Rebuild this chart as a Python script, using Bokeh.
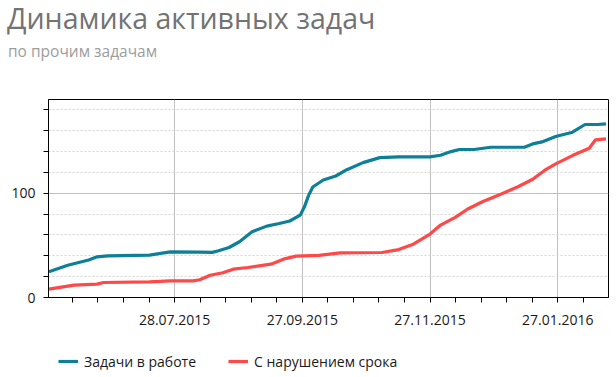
import numpy as np
import pandas as pd
from bokeh.plotting import figure
from bokeh.layouts import column
from bokeh.models import (Range1d, FixedTicker, DatetimeTickFormatter, Legend,
                          LegendItem, Div)
from bokeh.embed import file_html
from bokeh.resources import INLINE

title_text = "Динамика активных задач"
subtitle_text = "по прочим задачам"
series_names = ["Задачи в работе", "С нарушением срока"]
tick_dates = ["2015-07-28", "2015-09-27", "2015-11-27", "2016-01-27"]
x_limits = ["2015-05-28 19:00", "2016-02-20 05:00"]
y_major = [0, 100]
y_minor = [20, 40, 60, 80, 120, 140, 160, 180]

work_dates = ["2015-05-29", "2015-06-07", "2015-06-17", "2015-06-21", "2015-06-26",
              "2015-07-16", "2015-07-26", "2015-08-09", "2015-08-15", "2015-08-18",
              "2015-08-23", "2015-08-28", "2015-09-03", "2015-09-10", "2015-09-16",
              "2015-09-21", "2015-09-26", "2015-09-28", "2015-09-30", "2015-10-02",
              "2015-10-07", "2015-10-13", "2015-10-18", "2015-10-26", "2015-11-03",
              "2015-11-12", "2015-11-27", "2015-12-02", "2015-12-07", "2015-12-11",
              "2015-12-18", "2015-12-26", "2016-01-11", "2016-01-15", "2016-01-20",
              "2016-01-26", "2016-02-03", "2016-02-09", "2016-02-15", "2016-02-19"]
work_vals = [24.6, 31, 36, 39, 40, 40.7, 43.8, 43.5, 43.3, 44.8,
             48, 53.5, 63, 68.5, 71, 73.4, 79, 87, 98, 106,
             112.8, 116.6, 122.4, 129.4, 134.2, 135, 135, 136.5, 140, 142,
             142, 144.2, 144.2, 147.4, 149.6, 154.5, 158.6, 166, 166, 166.6]

overdue_dates = ["2015-05-29", "2015-06-10", "2015-06-21", "2015-06-24", "2015-07-16",
                 "2015-07-26", "2015-08-06", "2015-08-09", "2015-08-14", "2015-08-20",
                 "2015-08-25", "2015-09-01", "2015-09-12", "2015-09-18", "2015-09-24",
                 "2015-10-05", "2015-10-15", "2015-11-04", "2015-11-12", "2015-11-19",
                 "2015-11-27", "2015-12-02", "2015-12-09", "2015-12-15", "2015-12-22",
                 "2015-12-31", "2016-01-08", "2016-01-15", "2016-01-21", "2016-01-26",
                 "2016-02-03", "2016-02-11", "2016-02-14", "2016-02-19"]
overdue_vals = [8, 11.8, 12.8, 14.4, 15, 16, 16, 17, 21.4, 23.7,
                27.2, 28.8, 32, 36.8, 39.7, 40.4, 42.9, 43.2, 46, 51.2,
                60.9, 69.5, 76.9, 84.9, 91.9, 99.3, 106.3, 113.5, 122.4, 128.2,
                136.2, 143.3, 151.3, 152.2]

BLUE = "#0d7f99"
RED = "#ff4848"
FONT = "Open Sans"
W = 616
TOP_H = 91
MAIN_H = 246
LEG_H = 377 - TOP_H - MAIN_H


def to_ms(dates):
    return [float((pd.Timestamp(d) - pd.Timestamp("1970-01-01")) / pd.Timedelta(milliseconds=1))
            for d in dates]


# ---- title block (HTML text) ----
span = ("<span style=\"position:absolute;left:{l}px;top:{t}px;font-family:'Open Sans';"
        "font-size:{s}px;line-height:1;color:{c};white-space:nowrap;\">{txt}</span>")
head_html = ("<div style=\"position:relative;width:%dpx;height:%dpx;\">" % (W, TOP_H)
             + span.format(l=7, t=4, s=28.5, c="#737373", txt=title_text)
             + span.format(l=8, t=44, s=15.5, c="#9c9c9c", txt=subtitle_text)
             + "</div>")
head = Div(text=head_html, width=W, height=TOP_H, margin=0)

# ---- main chart ----
major_ms = to_ms(tick_dates)
step = (major_ms[1] - major_ms[0]) / 5.0
minor_ms = [major_ms[0] + k * step for k in range(-5, 0)]
for a, b in zip(major_ms[:-1], major_ms[1:]):
    minor_ms += list(np.linspace(a, b, 6)[1:-1])
minor_ms += [major_ms[-1] + k * step for k in range(1, 5)]
xlim_ms = to_ms(x_limits)

p = figure(width=W, height=MAIN_H, output_backend="svg", toolbar_location=None,
           x_axis_type="datetime",
           x_range=Range1d(xlim_ms[0], xlim_ms[1]),
           y_range=Range1d(0, 190),
           min_border_left=48, min_border_right=8, min_border_top=8,
           min_border_bottom=40)
p.background_fill_color = "white"
p.border_fill_color = "white"
p.outline_line_color = "black"
p.outline_line_width = 1

p.line(pd.to_datetime(work_dates), work_vals, line_width=3.2, color=BLUE)
p.line(pd.to_datetime(overdue_dates), overdue_vals, line_width=3.2, color=RED)

xt = FixedTicker(ticks=major_ms, minor_ticks=minor_ms)
p.xaxis.ticker = xt
p.xaxis.formatter = DatetimeTickFormatter(days="%d.%m.%Y", months="%d.%m.%Y",
                                          years="%d.%m.%Y")
yt = FixedTicker(ticks=y_major, minor_ticks=y_minor)
p.yaxis.ticker = yt

for ax in (p.xaxis[0], p.yaxis[0]):
    ax.axis_line_color = "black"
    ax.major_tick_line_color = "black"
    ax.minor_tick_line_color = "black"
    ax.major_tick_in = 0
    ax.minor_tick_in = 0
    ax.major_tick_out = 5
    ax.minor_tick_out = 5
    ax.major_label_text_font = FONT
    ax.major_label_text_font_size = "14px"
    ax.major_label_text_color = "#1a1a1a"
p.yaxis.major_label_standoff = 8
p.xaxis.major_label_standoff = 12

p.xgrid.ticker = xt
p.xgrid.grid_line_color = "#c0c0c0"
p.ygrid.ticker = yt
p.ygrid.grid_line_color = "#c0c0c0"
p.ygrid.minor_grid_line_color = "#d4d4d4"
p.ygrid.minor_grid_line_dash = "2 2"

# ---- legend block (same series, kept out of view; only the legend shows) ----
leg = figure(width=W, height=LEG_H, output_backend="svg", toolbar_location=None,
             x_axis_type="datetime",
             x_range=Range1d(xlim_ms[0], xlim_ms[1]), y_range=Range1d(-1000, -900),
             x_axis_location=None, y_axis_location=None,
             min_border_left=48, min_border_right=8, min_border_top=0,
             min_border_bottom=0)
leg.outline_line_color = None
leg.background_fill_color = "white"
leg.border_fill_color = "white"
leg.grid.visible = False
k1 = leg.line(pd.to_datetime(work_dates), work_vals, line_width=3.2, color=BLUE)
k2 = leg.line(pd.to_datetime(overdue_dates), overdue_vals, line_width=3.2, color=RED)
legend = Legend(items=[LegendItem(label=series_names[0], renderers=[k1]),
                       LegendItem(label=series_names[1], renderers=[k2])],
                orientation="horizontal", location=(10, 6),
                label_text_font=FONT, label_text_font_size="14px",
                label_text_color="#1a1a1a", glyph_width=20, glyph_height=20,
                label_height=20, label_standoff=6, spacing=32,
                border_line_color=None, background_fill_alpha=0,
                padding=0, margin=0)
leg.add_layout(legend, "center")

layout = column(head, p, leg, spacing=0)
open("out.html", "w").write(file_html(layout, INLINE))
